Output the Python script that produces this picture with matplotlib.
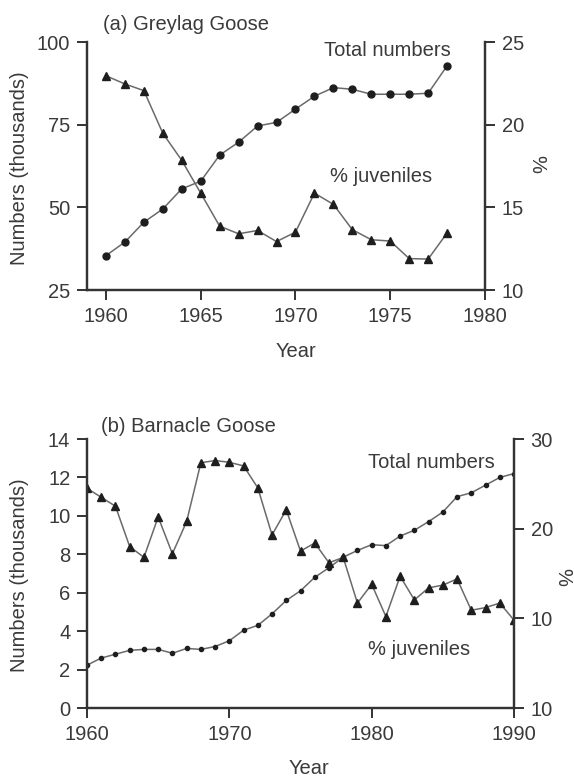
import matplotlib.pyplot as plt

plt.rcParams['font.family'] = ['Liberation Sans', 'DejaVu Sans']

# (a) Greylag Goose
years_a = list(range(1960, 1979))
total_a = [35.4, 39.5, 45.5, 49.5, 55.6, 57.9, 65.8, 69.7, 74.6, 75.7,
           79.7, 83.6, 86.2, 85.7, 84.2, 84.2, 84.2, 84.5, 92.8]
juv_a = [22.96, 22.46, 22.06, 19.48, 17.84, 15.86, 13.86, 13.4, 13.6, 12.93,
         13.5, 15.86, 15.18, 13.65, 13.04, 12.96, 11.9, 11.87, 13.45]

# (b) Barnacle Goose
years_b = list(range(1960, 1991))
total_b = [2.23, 2.6, 2.8, 3.0, 3.05, 3.05, 2.85, 3.1, 3.05, 3.2,
           3.5, 4.05, 4.3, 4.9, 5.6, 6.1, 6.8, 7.3, 7.85, 8.2,
           8.5, 8.45, 8.95, 9.25, 9.7, 10.2, 11.0, 11.2, 11.6, 12.0, 12.2]
juv_b = [24.5, 23.5, 22.5, 18.0, 16.8, 21.3, 17.2, 20.8, 27.35, 27.6,
         27.4, 27.0, 24.55, 19.3, 22.1, 17.5, 18.4, 16.2, 16.8, 11.7,
         13.8, 10.2, 14.7, 12.05, 13.4, 13.7, 14.4, 10.9, 11.2, 11.7, 9.8]

right_ticks_b = [0, 10, 20, 30]
right_labels_b = ['10', '10', '20', '30']

txt = '#3a3a3a'
line_c = '#6a6a6a'
mark_c = '#1e1e1e'
fs = 14.5

W, H = 574, 778
fig = plt.figure(figsize=(W / 100, H / 100), dpi=100)


def px_axes(l, r, t, b):
    return fig.add_axes([l / W, 1 - b / H, (r - l) / W, (b - t) / H])


def style(ax):
    ax.spines['top'].set_visible(False)
    for s in ('left', 'right', 'bottom'):
        ax.spines[s].set_linewidth(1.6)
        ax.spines[s].set_color('#333333')
    ax.tick_params(direction='out', length=7, width=1.4, colors='#333333',
                   labelsize=fs, labelcolor=txt, pad=5)


# ---- panel (a)
ax1 = px_axes(87, 485, 42, 290)
ax1r = ax1.twinx()
ax1.plot(years_a, total_a, color=line_c, lw=1.1, marker='o', ms=5,
         mfc=mark_c, mec=mark_c)
ax1r.plot(years_a, juv_a, color=line_c, lw=1.1, marker='^', ms=6,
          mfc=mark_c, mec=mark_c)
ax1.set_xlim(1959, 1980)
ax1.set_ylim(25, 100)
ax1r.set_ylim(10, 25)
ax1.set_xticks([1960, 1965, 1970, 1975, 1980])
ax1.set_yticks([25, 50, 75, 100])
ax1r.set_yticks([10, 15, 20, 25])
for a in (ax1, ax1r):
    style(a)
ax1.text(0.04, 1.069, '(a) Greylag Goose', transform=ax1.transAxes,
         fontsize=fs, color=txt, ha='left', va='center')
ax1.text(0.915, 0.964, 'Total numbers', transform=ax1.transAxes,
         fontsize=fs, color=txt, ha='right', va='center')
ax1.text(0.61, 0.456, '% juveniles', transform=ax1.transAxes,
         fontsize=fs, color=txt, ha='left', va='center')
fig.text(20 / W, 1 - 168 / H, 'Numbers (thousands)', rotation=90,
         fontsize=fs, color=txt, ha='center', va='center')
fig.text(537 / W, 1 - 164 / H, '%', rotation=270,
         fontsize=fs, color=txt, ha='center', va='center')
fig.text(296 / W, 1 - 351 / H, 'Year', fontsize=fs, color=txt,
         ha='center', va='center')

# ---- panel (b)
ax2 = px_axes(87, 514, 439, 708)
ax2r = ax2.twinx()
ax2.plot(years_b, total_b, color=line_c, lw=1.1, marker='o', ms=3,
         mfc=mark_c, mec=mark_c)
ax2r.plot(years_b, juv_b, color=line_c, lw=1.1, marker='^', ms=6,
          mfc=mark_c, mec=mark_c)
ax2.set_xlim(1960, 1990)
ax2.set_ylim(0, 14)
ax2r.set_ylim(0, 30)
ax2.set_xticks([1960, 1970, 1980, 1990])
ax2.set_yticks(range(0, 15, 2))
ax2r.set_yticks(right_ticks_b)
ax2r.set_yticklabels(right_labels_b)
for a in (ax2, ax2r):
    style(a)
ax2.text(0.033, 1.045, '(b) Barnacle Goose', transform=ax2.transAxes,
         fontsize=fs, color=txt, ha='left', va='center')
ax2.text(0.955, 0.911, 'Total numbers', transform=ax2.transAxes,
         fontsize=fs, color=txt, ha='right', va='center')
ax2.text(0.658, 0.216, '% juveniles', transform=ax2.transAxes,
         fontsize=fs, color=txt, ha='left', va='center')
fig.text(20 / W, 1 - 575 / H, 'Numbers (thousands)', rotation=90,
         fontsize=fs, color=txt, ha='center', va='center')
fig.text(563 / W, 1 - 577 / H, '%', rotation=270,
         fontsize=fs, color=txt, ha='center', va='center')
fig.text(309 / W, 1 - 768 / H, 'Year', fontsize=fs, color=txt,
         ha='center', va='center')

fig.savefig('out.png', dpi=100)
